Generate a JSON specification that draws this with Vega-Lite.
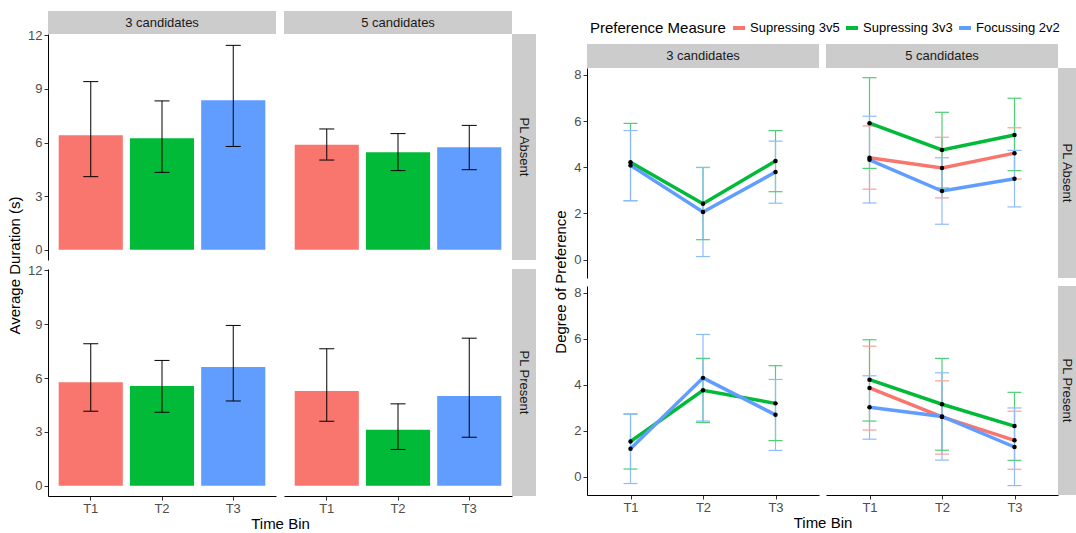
{
"$schema":"https://vega.github.io/schema/vega-lite/v6.json",
"padding":{"left":7,"top":11,"right":0,"bottom":0},
"spacing":17,
"resolve":{"scale":{"color":"independent"},"legend":{"color":"independent"}},
"config":{
 "view":{"stroke":null},
 "font":"Liberation Sans",
 "axis":{"labelFont":"Liberation Sans","labelFontSize":13,"labelColor":"#4d4d4d","titleFont":"Liberation Sans","titleFontSize":15,"titleFontWeight":"normal","titleColor":"#000000","domainColor":"#000000","domainWidth":1,"tickColor":"#333333","tickSize":4,"labelPadding":2,"titlePadding":5,"grid":false},
 "axisX":{"titlePadding":1},
 "text":{"font":"Liberation Sans"}
},
"datasets":{
 "dur":[
  {"pl":"PL Absent","cand":"3 candidates","bin":"T1","mean":6.41,"lo":4.09,"hi":9.41},
  {"pl":"PL Absent","cand":"3 candidates","bin":"T2","mean":6.24,"lo":4.33,"hi":8.33},
  {"pl":"PL Absent","cand":"3 candidates","bin":"T3","mean":8.37,"lo":5.78,"hi":11.44},
  {"pl":"PL Absent","cand":"5 candidates","bin":"T1","mean":5.87,"lo":5.02,"hi":6.76},
  {"pl":"PL Absent","cand":"5 candidates","bin":"T2","mean":5.46,"lo":4.43,"hi":6.5},
  {"pl":"PL Absent","cand":"5 candidates","bin":"T3","mean":5.74,"lo":4.48,"hi":6.96},
  {"pl":"PL Present","cand":"3 candidates","bin":"T1","mean":5.76,"lo":4.15,"hi":7.91},
  {"pl":"PL Present","cand":"3 candidates","bin":"T2","mean":5.56,"lo":4.09,"hi":6.98},
  {"pl":"PL Present","cand":"3 candidates","bin":"T3","mean":6.61,"lo":4.72,"hi":8.93},
  {"pl":"PL Present","cand":"5 candidates","bin":"T1","mean":5.28,"lo":3.59,"hi":7.63},
  {"pl":"PL Present","cand":"5 candidates","bin":"T2","mean":3.11,"lo":2.02,"hi":4.56},
  {"pl":"PL Present","cand":"5 candidates","bin":"T3","mean":5.0,"lo":2.7,"hi":8.22}
 ],
 "pref":[
  {"pl":"PL Absent","cand":"5 candidates","m":"Supressing 3v5","bin":"T1","mean":4.41,"lo":3.05,"hi":5.79},
  {"pl":"PL Absent","cand":"5 candidates","m":"Supressing 3v5","bin":"T2","mean":3.97,"lo":2.67,"hi":5.3},
  {"pl":"PL Absent","cand":"5 candidates","m":"Supressing 3v5","bin":"T3","mean":4.61,"lo":3.49,"hi":5.71},
  {"pl":"PL Present","cand":"5 candidates","m":"Supressing 3v5","bin":"T1","mean":3.86,"lo":2.03,"hi":5.68},
  {"pl":"PL Present","cand":"5 candidates","m":"Supressing 3v5","bin":"T2","mean":2.6,"lo":0.98,"hi":4.17},
  {"pl":"PL Present","cand":"5 candidates","m":"Supressing 3v5","bin":"T3","mean":1.58,"lo":0.32,"hi":2.85},
  {"pl":"PL Absent","cand":"3 candidates","m":"Supressing 3v3","bin":"T1","mean":4.22,"lo":2.55,"hi":5.9},
  {"pl":"PL Absent","cand":"3 candidates","m":"Supressing 3v3","bin":"T2","mean":2.42,"lo":0.86,"hi":3.99},
  {"pl":"PL Absent","cand":"3 candidates","m":"Supressing 3v3","bin":"T3","mean":4.27,"lo":2.94,"hi":5.59},
  {"pl":"PL Absent","cand":"5 candidates","m":"Supressing 3v3","bin":"T1","mean":5.91,"lo":3.95,"hi":7.88},
  {"pl":"PL Absent","cand":"5 candidates","m":"Supressing 3v3","bin":"T2","mean":4.75,"lo":3.1,"hi":6.38},
  {"pl":"PL Absent","cand":"5 candidates","m":"Supressing 3v3","bin":"T3","mean":5.4,"lo":3.85,"hi":6.99},
  {"pl":"PL Present","cand":"3 candidates","m":"Supressing 3v3","bin":"T1","mean":1.53,"lo":0.33,"hi":2.73},
  {"pl":"PL Present","cand":"3 candidates","m":"Supressing 3v3","bin":"T2","mean":3.76,"lo":2.36,"hi":5.15},
  {"pl":"PL Present","cand":"3 candidates","m":"Supressing 3v3","bin":"T3","mean":3.19,"lo":1.57,"hi":4.83},
  {"pl":"PL Present","cand":"5 candidates","m":"Supressing 3v3","bin":"T1","mean":4.22,"lo":2.42,"hi":5.96},
  {"pl":"PL Present","cand":"5 candidates","m":"Supressing 3v3","bin":"T2","mean":3.15,"lo":1.15,"hi":5.15},
  {"pl":"PL Present","cand":"5 candidates","m":"Supressing 3v3","bin":"T3","mean":2.2,"lo":0.71,"hi":3.67},
  {"pl":"PL Absent","cand":"3 candidates","m":"Focussing 2v2","bin":"T1","mean":4.08,"lo":2.55,"hi":5.59},
  {"pl":"PL Absent","cand":"3 candidates","m":"Focussing 2v2","bin":"T2","mean":2.06,"lo":0.13,"hi":3.99},
  {"pl":"PL Absent","cand":"3 candidates","m":"Focussing 2v2","bin":"T3","mean":3.79,"lo":2.44,"hi":5.13},
  {"pl":"PL Absent","cand":"5 candidates","m":"Focussing 2v2","bin":"T1","mean":4.32,"lo":2.45,"hi":6.21},
  {"pl":"PL Absent","cand":"5 candidates","m":"Focussing 2v2","bin":"T2","mean":2.97,"lo":1.53,"hi":4.41},
  {"pl":"PL Absent","cand":"5 candidates","m":"Focussing 2v2","bin":"T3","mean":3.5,"lo":2.28,"hi":4.73},
  {"pl":"PL Present","cand":"3 candidates","m":"Focussing 2v2","bin":"T1","mean":1.21,"lo":-0.3,"hi":2.72},
  {"pl":"PL Present","cand":"3 candidates","m":"Focussing 2v2","bin":"T2","mean":4.3,"lo":2.42,"hi":6.19},
  {"pl":"PL Present","cand":"3 candidates","m":"Focussing 2v2","bin":"T3","mean":2.69,"lo":1.14,"hi":4.23},
  {"pl":"PL Present","cand":"5 candidates","m":"Focussing 2v2","bin":"T1","mean":3.02,"lo":1.63,"hi":4.39},
  {"pl":"PL Present","cand":"5 candidates","m":"Focussing 2v2","bin":"T2","mean":2.62,"lo":0.72,"hi":4.52},
  {"pl":"PL Present","cand":"5 candidates","m":"Focussing 2v2","bin":"T3","mean":1.29,"lo":-0.39,"hi":2.99}
 ]
},
"hconcat":[
 {"columns":4,"spacing":0,"bounds":"flush","align":"each","concat":[
  {"width":228,"height":23,"view":{"fill":"#cccccc"},"data":{"values":[{"label":"3 candidates"}]},"mark":{"type":"text","fontSize":13,"color":"#1a1a1a"},"encoding":{"text":{"field":"label"}}},
  {"width":8,"height":23,"data":{"values":[{}]},"mark":{"type":"text","text":""}},
  {"width":228,"height":23,"view":{"fill":"#cccccc"},"data":{"values":[{"label":"5 candidates"}]},"mark":{"type":"text","fontSize":13,"color":"#1a1a1a"},"encoding":{"text":{"field":"label"}}},
  {"width":24,"height":23,"data":{"values":[{}]},"mark":{"type":"text","text":""}},

  {"width":228,"height":226,"data":{"name":"dur"},
   "transform":[{"filter":"datum.pl == 'PL Absent' && datum.cand == '3 candidates'"}],
   "encoding":{"x":{"field":"bin","type":"nominal","scale":{"paddingInner":0.1,"paddingOuter":0.15},"axis":null}},
   "layer":[
    {"mark":{"type":"bar"},"encoding":{"y":{"field":"mean","type":"quantitative","scale":{"domain":[-0.575,12.075],"nice":false,"zero":false},"axis":{"values":[0,3,6,9,12],"title":"Average Duration (s)","titleY":231}},"y2":{"datum":0},"color":{"field":"bin","type":"nominal","scale":{"domain":["T1","T2","T3"],"range":["#F8766D","#00BA38","#619CFF"]},"legend":null}}},
    {"mark":{"type":"rule","color":"#000000","strokeWidth":1},"encoding":{"y":{"field":"lo","type":"quantitative","scale":{"domain":[-0.575,12.075],"nice":false,"zero":false},"axis":{"values":[0,3,6,9,12],"title":"Average Duration (s)","titleY":231}},"y2":{"field":"hi"}}},
    {"transform":[{"fold":["lo","hi"],"as":["end","val"]}],"mark":{"type":"tick","color":"#000000","size":15,"thickness":1,"opacity":1},"encoding":{"y":{"field":"val","type":"quantitative","scale":{"domain":[-0.575,12.075],"nice":false,"zero":false},"axis":{"values":[0,3,6,9,12],"title":"Average Duration (s)","titleY":231}}}}
   ]},
  {"width":8,"height":1,"data":{"values":[{}]},"mark":{"type":"text","text":""}},
  {"width":228,"height":226,"data":{"name":"dur"},
   "transform":[{"filter":"datum.pl == 'PL Absent' && datum.cand == '5 candidates'"}],
   "encoding":{"x":{"field":"bin","type":"nominal","scale":{"paddingInner":0.1,"paddingOuter":0.15},"axis":null}},
   "layer":[
    {"mark":{"type":"bar"},"encoding":{"y":{"field":"mean","type":"quantitative","scale":{"domain":[-0.575,12.075],"nice":false,"zero":false},"axis":null},"y2":{"datum":0},"color":{"field":"bin","type":"nominal","scale":{"domain":["T1","T2","T3"],"range":["#F8766D","#00BA38","#619CFF"]},"legend":null}}},
    {"mark":{"type":"rule","color":"#000000","strokeWidth":1},"encoding":{"y":{"field":"lo","type":"quantitative","scale":{"domain":[-0.575,12.075],"nice":false,"zero":false},"axis":null},"y2":{"field":"hi"}}},
    {"transform":[{"fold":["lo","hi"],"as":["end","val"]}],"mark":{"type":"tick","color":"#000000","size":15,"thickness":1,"opacity":1},"encoding":{"y":{"field":"val","type":"quantitative","scale":{"domain":[-0.575,12.075],"nice":false,"zero":false},"axis":null}}}
   ]},
  {"width":24,"height":226,"view":{"fill":"#cccccc"},"data":{"values":[{"label":"PL Absent"}]},"mark":{"type":"text","fontSize":13,"color":"#1a1a1a","angle":90},"encoding":{"text":{"field":"label"}}},

  {"width":1,"height":9,"data":{"values":[{}]},"mark":{"type":"text","text":""}},
  {"width":8,"height":9,"data":{"values":[{}]},"mark":{"type":"text","text":""}},
  {"width":1,"height":9,"data":{"values":[{}]},"mark":{"type":"text","text":""}},
  {"width":1,"height":9,"data":{"values":[{}]},"mark":{"type":"text","text":""}},

  {"width":228,"height":227,"data":{"name":"dur"},
   "transform":[{"filter":"datum.pl == 'PL Present' && datum.cand == '3 candidates'"}],
   "encoding":{"x":{"field":"bin","type":"nominal","scale":{"paddingInner":0.1,"paddingOuter":0.15},"axis":{"title":"Time Bin","titleX":232,"labelAngle":0}}},
   "layer":[
    {"mark":{"type":"bar"},"encoding":{"y":{"field":"mean","type":"quantitative","scale":{"domain":[-0.575,12.075],"nice":false,"zero":false},"axis":{"values":[0,3,6,9,12],"title":null}},"y2":{"datum":0},"color":{"field":"bin","type":"nominal","scale":{"domain":["T1","T2","T3"],"range":["#F8766D","#00BA38","#619CFF"]},"legend":null}}},
    {"mark":{"type":"rule","color":"#000000","strokeWidth":1},"encoding":{"y":{"field":"lo","type":"quantitative","scale":{"domain":[-0.575,12.075],"nice":false,"zero":false},"axis":{"values":[0,3,6,9,12],"title":null}},"y2":{"field":"hi"}}},
    {"transform":[{"fold":["lo","hi"],"as":["end","val"]}],"mark":{"type":"tick","color":"#000000","size":15,"thickness":1,"opacity":1},"encoding":{"y":{"field":"val","type":"quantitative","scale":{"domain":[-0.575,12.075],"nice":false,"zero":false},"axis":{"values":[0,3,6,9,12],"title":null}}}}
   ]},
  {"width":8,"height":1,"data":{"values":[{}]},"mark":{"type":"text","text":""}},
  {"width":228,"height":227,"data":{"name":"dur"},
   "transform":[{"filter":"datum.pl == 'PL Present' && datum.cand == '5 candidates'"}],
   "encoding":{"x":{"field":"bin","type":"nominal","scale":{"paddingInner":0.1,"paddingOuter":0.15},"axis":{"title":null,"labelAngle":0}}},
   "layer":[
    {"mark":{"type":"bar"},"encoding":{"y":{"field":"mean","type":"quantitative","scale":{"domain":[-0.575,12.075],"nice":false,"zero":false},"axis":null},"y2":{"datum":0},"color":{"field":"bin","type":"nominal","scale":{"domain":["T1","T2","T3"],"range":["#F8766D","#00BA38","#619CFF"]},"legend":null}}},
    {"mark":{"type":"rule","color":"#000000","strokeWidth":1},"encoding":{"y":{"field":"lo","type":"quantitative","scale":{"domain":[-0.575,12.075],"nice":false,"zero":false},"axis":null},"y2":{"field":"hi"}}},
    {"transform":[{"fold":["lo","hi"],"as":["end","val"]}],"mark":{"type":"tick","color":"#000000","size":15,"thickness":1,"opacity":1},"encoding":{"y":{"field":"val","type":"quantitative","scale":{"domain":[-0.575,12.075],"nice":false,"zero":false},"axis":null}}}
   ]},
  {"width":24,"height":227,"view":{"fill":"#cccccc"},"data":{"values":[{"label":"PL Present"}]},"mark":{"type":"text","fontSize":13,"color":"#1a1a1a","angle":90},"encoding":{"text":{"field":"label"}}}
 ]},

 {"columns":4,"spacing":0,"bounds":"flush","align":"each","concat":[
  {"width":232,"height":33,"data":{"values":[{}]},"mark":{"type":"text","text":""}},
  {"width":7,"height":33,"data":{"values":[{}]},"mark":{"type":"text","text":""}},
  {"width":1,"height":33,"data":{"values":[{}]},"mark":{"type":"text","text":""}},
  {"width":18,"height":33,"data":{"values":[{}]},"mark":{"type":"text","text":""}},

  {"width":232,"height":24,"view":{"fill":"#cccccc"},"data":{"values":[{"label":"3 candidates"}]},"mark":{"type":"text","fontSize":13,"color":"#1a1a1a"},"encoding":{"text":{"field":"label"}}},
  {"width":7,"height":24,"data":{"values":[{}]},"mark":{"type":"text","text":""}},
  {"width":232,"height":24,"view":{"fill":"#cccccc"},"data":{"values":[{"label":"5 candidates"}]},"mark":{"type":"text","fontSize":13,"color":"#1a1a1a"},"encoding":{"text":{"field":"label"}}},
  {"width":18,"height":24,"data":{"values":[{}]},"mark":{"type":"text","text":""}},

  {"width":232,"height":210,"data":{"name":"pref"},
   "transform":[{"filter":"datum.pl == 'PL Absent' && datum.cand == '3 candidates'"}],
   "encoding":{"x":{"field":"bin","type":"nominal","scale":{"type":"point","padding":0.6},"axis":null}},
   "layer":[
    {"mark":{"type":"rule","strokeWidth":1.2},"encoding":{"y":{"field":"lo","type":"quantitative","scale":{"domain":[-0.8,8.3],"nice":false,"zero":false},"axis":{"values":[0,2,4,6,8],"title":"Degree of Preference","titleY":213.5}},"y2":{"field":"hi"},"stroke":{"field":"m","type":"nominal","scale":{"domain":["Supressing 3v5","Supressing 3v3","Focussing 2v2"],"range":["#FA9F99","#4DCF74","#90BAFF"]},"legend":null}}},
    {"transform":[{"fold":["lo","hi"],"as":["end","val"]}],"mark":{"type":"tick","size":14,"thickness":1.2,"opacity":1},"encoding":{"y":{"field":"val","type":"quantitative","scale":{"domain":[-0.8,8.3],"nice":false,"zero":false},"axis":{"values":[0,2,4,6,8],"title":"Degree of Preference","titleY":213.5}},"fill":{"field":"m","type":"nominal","scale":{"domain":["Supressing 3v5","Supressing 3v3","Focussing 2v2"],"range":["#FA9F99","#4DCF74","#90BAFF"]},"legend":null}}},
    {"mark":{"type":"line","strokeWidth":3.5},"encoding":{"y":{"field":"mean","type":"quantitative","scale":{"domain":[-0.8,8.3],"nice":false,"zero":false},"axis":{"values":[0,2,4,6,8],"title":"Degree of Preference","titleY":213.5}},"color":{"field":"m","type":"nominal","scale":{"domain":["Supressing 3v5","Supressing 3v3","Focussing 2v2"],"range":["#F8766D","#00BA38","#619CFF"]},"legend":{"title":"Preference Measure","orient":"none","legendX":3,"legendY":9,"direction":"horizontal","titleOrient":"left","symbolType":"stroke","symbolStrokeWidth":4,"symbolSize":144,"symbolOpacity":1,"labelFontSize":13,"labelFont":"Liberation Sans","labelColor":"#000000","titleFontSize":15,"titleFont":"Liberation Sans","titleFontWeight":"normal","titleColor":"#000000","titlePadding":5,"labelOffset":3,"columnPadding":-2,"padding":0}}}},
    {"mark":{"type":"point","filled":true,"color":"#000000","size":20,"opacity":1},"encoding":{"y":{"field":"mean","type":"quantitative","scale":{"domain":[-0.8,8.3],"nice":false,"zero":false},"axis":{"values":[0,2,4,6,8],"title":"Degree of Preference","titleY":213.5}}}}
   ]},
  {"width":7,"height":1,"data":{"values":[{}]},"mark":{"type":"text","text":""}},
  {"width":232,"height":210,"data":{"name":"pref"},
   "transform":[{"filter":"datum.pl == 'PL Absent' && datum.cand == '5 candidates'"}],
   "encoding":{"x":{"field":"bin","type":"nominal","scale":{"type":"point","padding":0.6},"axis":null}},
   "layer":[
    {"mark":{"type":"rule","strokeWidth":1.2},"encoding":{"y":{"field":"lo","type":"quantitative","scale":{"domain":[-0.8,8.3],"nice":false,"zero":false},"axis":null},"y2":{"field":"hi"},"stroke":{"field":"m","type":"nominal","scale":{"domain":["Supressing 3v5","Supressing 3v3","Focussing 2v2"],"range":["#FA9F99","#4DCF74","#90BAFF"]},"legend":null}}},
    {"transform":[{"fold":["lo","hi"],"as":["end","val"]}],"mark":{"type":"tick","size":14,"thickness":1.2,"opacity":1},"encoding":{"y":{"field":"val","type":"quantitative","scale":{"domain":[-0.8,8.3],"nice":false,"zero":false},"axis":null},"fill":{"field":"m","type":"nominal","scale":{"domain":["Supressing 3v5","Supressing 3v3","Focussing 2v2"],"range":["#FA9F99","#4DCF74","#90BAFF"]},"legend":null}}},
    {"mark":{"type":"line","strokeWidth":3.5},"encoding":{"y":{"field":"mean","type":"quantitative","scale":{"domain":[-0.8,8.3],"nice":false,"zero":false},"axis":null},"color":{"field":"m","type":"nominal","scale":{"domain":["Supressing 3v5","Supressing 3v3","Focussing 2v2"],"range":["#F8766D","#00BA38","#619CFF"]},"legend":{"title":"Preference Measure","orient":"none","legendX":3,"legendY":9,"direction":"horizontal","titleOrient":"left","symbolType":"stroke","symbolStrokeWidth":4,"symbolSize":144,"symbolOpacity":1,"labelFontSize":13,"labelFont":"Liberation Sans","labelColor":"#000000","titleFontSize":15,"titleFont":"Liberation Sans","titleFontWeight":"normal","titleColor":"#000000","titlePadding":5,"labelOffset":3,"columnPadding":-2,"padding":0}}}},
    {"mark":{"type":"point","filled":true,"color":"#000000","size":20,"opacity":1},"encoding":{"y":{"field":"mean","type":"quantitative","scale":{"domain":[-0.8,8.3],"nice":false,"zero":false},"axis":null}}}
   ]},
  {"width":18,"height":210,"view":{"fill":"#cccccc"},"data":{"values":[{"label":"PL Absent"}]},"mark":{"type":"text","fontSize":13,"color":"#1a1a1a","angle":90},"encoding":{"text":{"field":"label"}}},

  {"width":1,"height":8,"data":{"values":[{}]},"mark":{"type":"text","text":""}},
  {"width":7,"height":8,"data":{"values":[{}]},"mark":{"type":"text","text":""}},
  {"width":1,"height":8,"data":{"values":[{}]},"mark":{"type":"text","text":""}},
  {"width":1,"height":8,"data":{"values":[{}]},"mark":{"type":"text","text":""}},

  {"width":232,"height":209,"data":{"name":"pref"},
   "transform":[{"filter":"datum.pl == 'PL Present' && datum.cand == '3 candidates'"}],
   "encoding":{"x":{"field":"bin","type":"nominal","scale":{"type":"point","padding":0.6},"axis":{"title":"Time Bin","titleX":235.5,"labelAngle":0}}},
   "layer":[
    {"mark":{"type":"rule","strokeWidth":1.2},"encoding":{"y":{"field":"lo","type":"quantitative","scale":{"domain":[-0.8,8.3],"nice":false,"zero":false},"axis":{"values":[0,2,4,6,8],"title":null}},"y2":{"field":"hi"},"stroke":{"field":"m","type":"nominal","scale":{"domain":["Supressing 3v5","Supressing 3v3","Focussing 2v2"],"range":["#FA9F99","#4DCF74","#90BAFF"]},"legend":null}}},
    {"transform":[{"fold":["lo","hi"],"as":["end","val"]}],"mark":{"type":"tick","size":14,"thickness":1.2,"opacity":1},"encoding":{"y":{"field":"val","type":"quantitative","scale":{"domain":[-0.8,8.3],"nice":false,"zero":false},"axis":{"values":[0,2,4,6,8],"title":null}},"fill":{"field":"m","type":"nominal","scale":{"domain":["Supressing 3v5","Supressing 3v3","Focussing 2v2"],"range":["#FA9F99","#4DCF74","#90BAFF"]},"legend":null}}},
    {"mark":{"type":"line","strokeWidth":3.5},"encoding":{"y":{"field":"mean","type":"quantitative","scale":{"domain":[-0.8,8.3],"nice":false,"zero":false},"axis":{"values":[0,2,4,6,8],"title":null}},"color":{"field":"m","type":"nominal","scale":{"domain":["Supressing 3v5","Supressing 3v3","Focussing 2v2"],"range":["#F8766D","#00BA38","#619CFF"]},"legend":{"title":"Preference Measure","orient":"none","legendX":3,"legendY":9,"direction":"horizontal","titleOrient":"left","symbolType":"stroke","symbolStrokeWidth":4,"symbolSize":144,"symbolOpacity":1,"labelFontSize":13,"labelFont":"Liberation Sans","labelColor":"#000000","titleFontSize":15,"titleFont":"Liberation Sans","titleFontWeight":"normal","titleColor":"#000000","titlePadding":5,"labelOffset":3,"columnPadding":-2,"padding":0}}}},
    {"mark":{"type":"point","filled":true,"color":"#000000","size":20,"opacity":1},"encoding":{"y":{"field":"mean","type":"quantitative","scale":{"domain":[-0.8,8.3],"nice":false,"zero":false},"axis":{"values":[0,2,4,6,8],"title":null}}}}
   ]},
  {"width":7,"height":1,"data":{"values":[{}]},"mark":{"type":"text","text":""}},
  {"width":232,"height":209,"data":{"name":"pref"},
   "transform":[{"filter":"datum.pl == 'PL Present' && datum.cand == '5 candidates'"}],
   "encoding":{"x":{"field":"bin","type":"nominal","scale":{"type":"point","padding":0.6},"axis":{"title":null,"labelAngle":0}}},
   "layer":[
    {"mark":{"type":"rule","strokeWidth":1.2},"encoding":{"y":{"field":"lo","type":"quantitative","scale":{"domain":[-0.8,8.3],"nice":false,"zero":false},"axis":null},"y2":{"field":"hi"},"stroke":{"field":"m","type":"nominal","scale":{"domain":["Supressing 3v5","Supressing 3v3","Focussing 2v2"],"range":["#FA9F99","#4DCF74","#90BAFF"]},"legend":null}}},
    {"transform":[{"fold":["lo","hi"],"as":["end","val"]}],"mark":{"type":"tick","size":14,"thickness":1.2,"opacity":1},"encoding":{"y":{"field":"val","type":"quantitative","scale":{"domain":[-0.8,8.3],"nice":false,"zero":false},"axis":null},"fill":{"field":"m","type":"nominal","scale":{"domain":["Supressing 3v5","Supressing 3v3","Focussing 2v2"],"range":["#FA9F99","#4DCF74","#90BAFF"]},"legend":null}}},
    {"mark":{"type":"line","strokeWidth":3.5},"encoding":{"y":{"field":"mean","type":"quantitative","scale":{"domain":[-0.8,8.3],"nice":false,"zero":false},"axis":null},"color":{"field":"m","type":"nominal","scale":{"domain":["Supressing 3v5","Supressing 3v3","Focussing 2v2"],"range":["#F8766D","#00BA38","#619CFF"]},"legend":{"title":"Preference Measure","orient":"none","legendX":3,"legendY":9,"direction":"horizontal","titleOrient":"left","symbolType":"stroke","symbolStrokeWidth":4,"symbolSize":144,"symbolOpacity":1,"labelFontSize":13,"labelFont":"Liberation Sans","labelColor":"#000000","titleFontSize":15,"titleFont":"Liberation Sans","titleFontWeight":"normal","titleColor":"#000000","titlePadding":5,"labelOffset":3,"columnPadding":-2,"padding":0}}}},
    {"mark":{"type":"point","filled":true,"color":"#000000","size":20,"opacity":1},"encoding":{"y":{"field":"mean","type":"quantitative","scale":{"domain":[-0.8,8.3],"nice":false,"zero":false},"axis":null}}}
   ]},
  {"width":18,"height":209,"view":{"fill":"#cccccc"},"data":{"values":[{"label":"PL Present"}]},"mark":{"type":"text","fontSize":13,"color":"#1a1a1a","angle":90},"encoding":{"text":{"field":"label"}}}
 ]}
]
}
